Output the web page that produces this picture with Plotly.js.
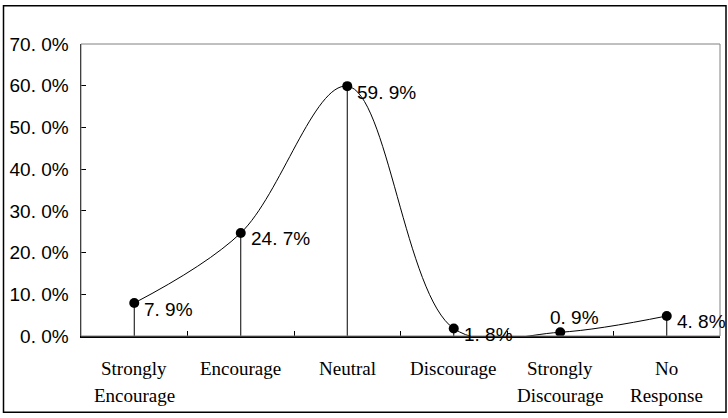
<!DOCTYPE html>
<html>
<head>
<meta charset="utf-8">
<script src="https://cdn.plot.ly/plotly-3.0.1.min.js"></script>
<style>
html,body{margin:0;padding:0;background:#fff;}
#chart{width:728px;height:418px;}
</style>
</head>
<body>
<div id="chart"></div>
<script>
// Data
var categories = ["Strongly Encourage", "Encourage", "Neutral", "Discourage", "Strongly Discourage", "No Response"];
var labelLine1 = ["Strongly", "Encourage", "Neutral", "Discourage", "Strongly", "No"];
var labelLine2 = ["Encourage", "", "", "", "Discourage", "Response"];
var values = [7.9, 24.7, 59.9, 1.8, 0.9, 4.8];
var valueLabels = ["7. 9%", "24. 7%", "59. 9%", "1. 8%", "0. 9%", "4. 8%"];
var yTickVals = [0, 10, 20, 30, 40, 50, 60, 70];
var yTickText = ["0. 0%", "10. 0%", "20. 0%", "30. 0%", "40. 0%", "50. 0%", "60. 0%", "70. 0%"];

// layout geometry (pixels)
var W = 728, H = 418;
var mL = 81, mR = 8, mT = 43.5, mB = 81.5;
var pw = W - mL - mR, ph = H - mT - mB;
function px2x(p){ return (p - mL) / pw; }
function px2y(p){ return (H - mB - p) / ph; }

var sansFont = "Liberation Sans, Arial, sans-serif";
var serifFont = "Liberation Serif, Times New Roman, serif";

var trace = {
  x: categories,
  y: values,
  type: "scatter",
  mode: "lines+markers",
  line: {shape: "spline", smoothing: 1, color: "#000", width: 1},
  marker: {size: 10, color: "#000"},
  error_y: {type: "data", symmetric: false, array: values.map(function(){return 0;}), arrayminus: values, width: 0, thickness: 1, color: "#000"},
  hoverinfo: "skip",
  cliponaxis: false
};

var annotations = [];
for (var i = 0; i < categories.length; i++) {
  var a = {x: categories[i], y: values[i], xref: "x", yref: "y", text: valueLabels[i], showarrow: false,
    xanchor: "left", yanchor: "middle", xshift: 8, yshift: -6,
    font: {family: sansFont, size: 19, color: "#000"}};
  if (i === 4) { a.xshift = -12; a.yshift = 15; }
  annotations.push(a);
  annotations.push({x: categories[i], y: px2y(369), xref: "x", yref: "paper", text: labelLine1[i], showarrow: false,
    xanchor: "center", yanchor: "middle", font: {family: serifFont, size: 19, color: "#000"}});
  if (labelLine2[i]) {
    annotations.push({x: categories[i], y: px2y(396), xref: "x", yref: "paper", text: labelLine2[i], showarrow: false,
      xanchor: "center", yanchor: "middle", font: {family: serifFont, size: 19, color: "#000"}});
  }
}

var layout = {
  width: W, height: H,
  margin: {l: mL, r: mR, t: mT, b: mB, pad: 0},
  paper_bgcolor: "#fff",
  plot_bgcolor: "#fff",
  showlegend: false,
  xaxis: {
    type: "category",
    range: [-0.5, 5.5],
    showticklabels: false,
    ticks: "inside", tickson: "boundaries", ticklen: 5, tickcolor: "#000", tickwidth: 1,
    showline: true, linecolor: "#000", linewidth: 1.5,
    showgrid: false, zeroline: false, fixedrange: true
  },
  yaxis: {
    range: [0, 70],
    tickvals: yTickVals, ticktext: yTickText,
    ticks: "inside", ticklen: 5, tickcolor: "#000", tickwidth: 1,
    ticklabelstandoff: 7,
    tickfont: {family: sansFont, size: 19, color: "#000"},
    showline: true, linecolor: "#000", linewidth: 1.5,
    showgrid: false, zeroline: false, fixedrange: true
  },
  shapes: [
    {type: "rect", xref: "paper", yref: "paper", x0: 0, x1: 1, y0: 0, y1: 1, line: {color: "#808080", width: 1}},
    {type: "rect", xref: "paper", yref: "paper", x0: px2x(3.5), x1: px2x(726), y0: px2y(413), y1: px2y(5), line: {color: "#000", width: 1.5}}
  ],
  annotations: annotations
};

Plotly.newPlot("chart", [trace], layout, {displayModeBar: false, staticPlot: true});
</script>
</body>
</html>
